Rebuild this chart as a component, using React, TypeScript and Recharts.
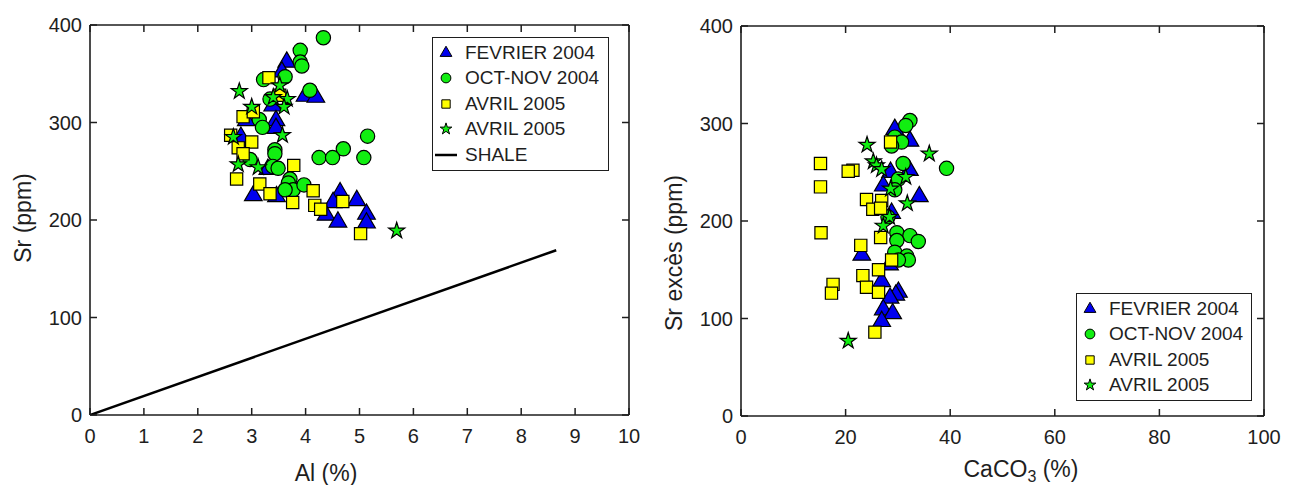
import React from 'react';
import { ScatterChart, Scatter, XAxis, YAxis, Legend, Symbols } from 'recharts';

type Pt = { x: number; y: number };
const toPts = (a: number[][]): Pt[] => a.map(([x, y]) => ({ x, y }));

// left panel : Al (%) vs Sr (ppm)
const alTicks = [0, 1, 2, 3, 4, 5, 6, 7, 8, 9, 10];
const srTicks = [0, 100, 200, 300, 400];

const fev04Al = [
  [3.65, 362], [3.56, 352], [3.99, 327], [4.19, 326], [3.39, 317], [3.45, 302], [3.45, 294],
  [2.9, 302], [2.8, 285], [3.03, 225], [3.46, 224], [3.3, 252], [4.64, 228], [4.95, 220],
  [4.51, 218], [4.38, 205], [4.6, 198], [5.13, 206], [5.13, 197],
];
const octNov04Al = [
  [4.33, 387], [3.9, 374], [3.9, 362], [3.93, 358], [3.62, 347], [3.22, 344], [4.08, 333],
  [3.34, 324], [3.14, 303], [3.2, 295], [5.15, 286], [3.43, 272], [4.7, 273], [3.43, 268],
  [2.97, 262], [4.25, 264], [4.5, 264], [5.08, 264], [3.39, 255], [3.49, 253], [3.71, 242],
  [3.68, 238], [3.77, 231], [3.62, 231], [3.97, 236],
];
const avril05Al = [
  [3.32, 346], [3.52, 328], [2.84, 306], [3.03, 311], [2.61, 287], [3.0, 280], [2.75, 274],
  [2.84, 268], [2.72, 242], [3.78, 256], [3.15, 237], [3.34, 227], [3.76, 218], [4.14, 230],
  [4.17, 215], [4.28, 211], [4.69, 219], [5.02, 186],
];
const avril05bAl = [
  [2.77, 332], [3.52, 338], [3.4, 326], [3.66, 324], [3.6, 316], [3.0, 316], [3.57, 287],
  [2.66, 285], [2.75, 257], [3.12, 254], [5.69, 189],
];
const shale = [[0, 0], [8.65, 169]];

// right panel : CaCO3 (%) vs Sr excès (ppm)
const caco3Ticks = [0, 20, 40, 60, 80, 100];

const fev04Ca = [
  [29.4, 294], [32.3, 282], [28.6, 250], [32.2, 252], [27.2, 236], [34.1, 225], [28.8, 208],
  [23.1, 165], [28.4, 155], [26.9, 138], [30.1, 127], [29.6, 124], [28.5, 121], [27.2, 109],
  [29.0, 105], [26.9, 97],
];
const octNov04Ca = [
  [32.3, 303], [31.5, 298], [29.4, 286], [30.7, 281], [28.8, 277], [31.0, 259], [39.3, 254],
  [30.1, 243], [29.4, 232], [28.1, 204], [29.8, 188], [32.3, 185], [33.9, 179], [29.8, 180],
  [29.4, 168], [31.7, 164], [32.0, 160], [30.1, 160],
];
const avril05Ca = [
  [28.6, 281], [21.4, 252], [20.5, 251], [15.2, 259], [15.2, 235], [15.3, 188], [24.0, 222],
  [26.9, 221], [25.2, 212], [26.7, 213], [26.7, 183], [22.9, 175], [28.8, 160], [26.3, 150],
  [23.3, 144], [17.6, 135], [17.3, 126], [24.0, 132], [26.3, 127], [25.6, 86],
];
const avril05bCa = [
  [24.1, 278], [36.0, 269], [25.3, 261], [25.9, 257], [26.9, 253], [31.5, 245], [28.6, 233],
  [31.8, 218], [28.4, 204], [27.2, 195], [20.5, 77],
];

const INK = '#1e1e1e';
const FONT = '"Liberation Sans", Arial, sans-serif';

const SERIES = [
  { name: 'FEVRIER 2004', type: 'triangle', fill: '#0000ee', size: 135, lsize: 60 },
  { name: 'OCT-NOV 2004', type: 'circle', fill: '#11ee11', size: 160, lsize: 75 },
  { name: 'AVRIL 2005', type: 'square', fill: '#ffff00', size: 150, lsize: 70 },
  { name: 'AVRIL 2005', type: 'star', fill: '#11ee11', size: 80, lsize: 42 },
] as const;

const mark = (s: (typeof SERIES)[number]) => (p: any) => (
  <Symbols cx={p.cx} cy={p.cy} type={s.type as any} size={s.size} fill={s.fill} stroke="#000" strokeWidth={1.2} />
);
const noMark = () => <g />;

const BottomTick = ({ x, y, payload }: any) => (
  <g>
    <line x1={x} y1={y} x2={x} y2={y - 7} stroke={INK} strokeWidth={1.5} />
    <text x={x} y={y + 28} textAnchor="middle" fontSize={20} fill={INK}>{payload.value}</text>
  </g>
);
const TopTick = ({ x, y }: any) => <line x1={x} y1={y} x2={x} y2={y + 7} stroke={INK} strokeWidth={1.5} />;
const LeftTick = ({ x, y, payload }: any) => (
  <g>
    <line x1={x} y1={y} x2={x + 7} y2={y} stroke={INK} strokeWidth={1.5} />
    <text x={x - 8} y={y + 7} textAnchor="end" fontSize={20} fill={INK}>{payload.value}</text>
  </g>
);
const RightTick = ({ x, y }: any) => <line x1={x} y1={y} x2={x - 7} y2={y} stroke={INK} strokeWidth={1.5} />;

const xTitle = (dx: number, dy: number, content: React.ReactNode) => (p: any) => {
  const vb = p.viewBox;
  return (
    <text x={vb.x + dx} y={vb.y + dy} textAnchor="middle" fontSize={23} fill={INK}>{content}</text>
  );
};
const yTitle = (dx: number, cy: number, text: string) => (p: any) => {
  const vb = p.viewBox;
  const cx = vb.x + dx;
  return (
    <text x={cx} y={cy} transform={`rotate(-90 ${cx} ${cy})`} textAnchor="middle" dominantBaseline="central" fontSize={23} fill={INK}>
      {text}
    </text>
  );
};

const LegendBox = ({ withShale }: { withShale: boolean }) => (
  <div style={{ border: `1.5px solid ${INK}`, background: '#fff', padding: '2px 0', boxSizing: 'border-box', fontFamily: FONT }}>
    {SERIES.map((s, i) => (
      <div key={i} style={{ display: 'flex', alignItems: 'center', height: 25.5 }}>
        <svg width={26} height={20}>
          <Symbols cx={13} cy={10} type={s.type as any} size={s.lsize} fill={s.fill} stroke="#000" strokeWidth={1} />
        </svg>
        <span style={{ fontSize: 19, color: INK, marginLeft: 6, whiteSpace: 'nowrap' }}>{s.name}</span>
      </div>
    ))}
    {withShale && (
      <div style={{ display: 'flex', alignItems: 'center', height: 25.5 }}>
        <svg width={26} height={20}>
          <line x1={2} y1={10} x2={24} y2={10} stroke="#000" strokeWidth={2.5} />
        </svg>
        <span style={{ fontSize: 19, color: INK, marginLeft: 6 }}>SHALE</span>
      </div>
    )}
  </div>
);

const axisLine = { stroke: INK, strokeWidth: 1.6 };

export default function App() {
  const left = [fev04Al, octNov04Al, avril05Al, avril05bAl];
  const right = [fev04Ca, octNov04Ca, avril05Ca, avril05bCa];
  return (
    <div style={{ position: 'absolute', left: 0, top: 0, width: 1290, height: 485, background: '#fff', fontFamily: FONT }}>
      <div style={{ position: 'absolute', left: 0, top: 0 }}>
        <ScatterChart width={650} height={485} margin={{ top: 24, right: 20, bottom: 30, left: 30 }}>
          <XAxis type="number" dataKey="x" domain={[0, 10]} ticks={alTicks} height={40} tickSize={0} tickMargin={0}
            tick={<BottomTick />} tickLine={false} axisLine={axisLine} allowDataOverflow
            label={xTitle(236, 66, 'Al (%)')} />
          <XAxis xAxisId="top" orientation="top" type="number" dataKey="x" domain={[0, 10]} ticks={alTicks} height={1}
            tickSize={0} tickMargin={0} tick={<TopTick />} tickLine={false} axisLine={axisLine} allowDataOverflow />
          <YAxis type="number" dataKey="y" domain={[0, 400]} ticks={srTicks} width={60} tickSize={0} tickMargin={0}
            tick={<LeftTick />} tickLine={false} axisLine={axisLine} allowDataOverflow
            label={yTitle(-7, 218, 'Sr (ppm)')} />
          <YAxis yAxisId="right" orientation="right" type="number" dataKey="y" domain={[0, 400]} ticks={srTicks} width={1}
            tickSize={0} tickMargin={0} tick={<RightTick />} tickLine={false} axisLine={axisLine} allowDataOverflow />
          <Scatter data={toPts(shale)} xAxisId="top" yAxisId="right" line={{ stroke: '#000', strokeWidth: 2.5 }}
            shape={noMark} isAnimationActive={false} />
          {SERIES.map((s, i) => (
            <Scatter key={i} name={s.name} data={toPts(left[i])} shape={mark(s)} isAnimationActive={false} />
          ))}
          <Legend layout="horizontal" verticalAlign="middle" align="center"
            wrapperStyle={{ left: 432, top: 37, width: 177 }} content={() => <LegendBox withShale />} />
        </ScatterChart>
      </div>
      <div style={{ position: 'absolute', left: 650, top: 0 }}>
        <ScatterChart width={640} height={485} margin={{ top: 25, right: 25, bottom: 29, left: 31 }}>
          <XAxis type="number" dataKey="x" domain={[0, 100]} ticks={caco3Ticks} height={40} tickSize={0} tickMargin={0}
            tick={<BottomTick />} tickLine={false} axisLine={axisLine} allowDataOverflow
            label={xTitle(280, 61, <>CaCO<tspan fontSize={16} dy={5}>3</tspan><tspan dy={-5}> (%)</tspan></>)} />
          <XAxis xAxisId="top" orientation="top" type="number" dataKey="x" domain={[0, 100]} ticks={caco3Ticks} height={1}
            tickSize={0} tickMargin={0} tick={<TopTick />} tickLine={false} axisLine={axisLine} allowDataOverflow />
          <YAxis type="number" dataKey="y" domain={[0, 400]} ticks={srTicks} width={60} tickSize={0} tickMargin={0}
            tick={<LeftTick />} tickLine={false} axisLine={axisLine} allowDataOverflow
            label={yTitle(-7, 253, 'Sr excès (ppm)')} />
          <YAxis yAxisId="right" orientation="right" type="number" dataKey="y" domain={[0, 400]} ticks={srTicks} width={1}
            tickSize={0} tickMargin={0} tick={<RightTick />} tickLine={false} axisLine={axisLine} allowDataOverflow />
          {/* invisible copy bound to the frame axes so the top/right edges get drawn */}
          <Scatter data={toPts(fev04Ca)} xAxisId="top" yAxisId="right" shape={noMark} isAnimationActive={false} legendType="none" />
          {SERIES.map((s, i) => (
            <Scatter key={i} name={s.name} data={toPts(right[i])} shape={mark(s)} isAnimationActive={false} />
          ))}
          <Legend layout="horizontal" verticalAlign="middle" align="center"
            wrapperStyle={{ left: 426, top: 293, width: 176 }} content={() => <LegendBox withShale={false} />} />
        </ScatterChart>
      </div>
    </div>
  );
}
